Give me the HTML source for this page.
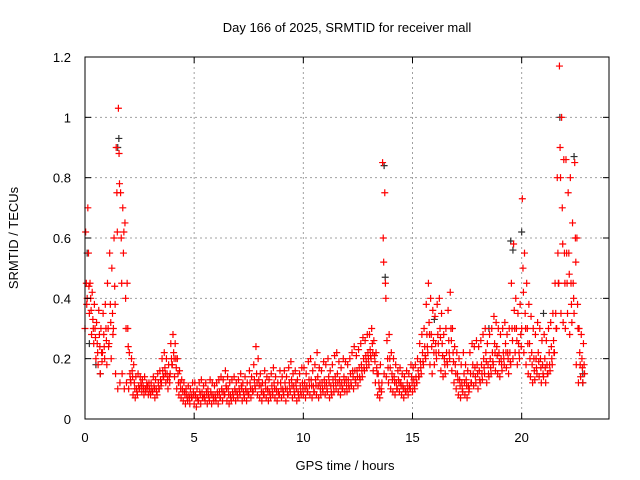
<!DOCTYPE html>
<html><head><meta charset="utf-8"><style>
body{margin:0;background:#fff;}
svg{display:block;font-family:"Liberation Sans",sans-serif;font-size:13px;}
</style></head><body>
<svg id="chart" width="640" height="480">
<rect x="0" y="0" width="640" height="480" fill="#fff"/>
<g id="grid"></g>
<g id="black"></g>
<g id="red"></g>
<rect x="85" y="57" width="524" height="362" fill="none" stroke="#000" stroke-width="1"/>
<g id="axes"></g>
<text x="347" y="32" text-anchor="middle">Day 166 of 2025, SRMTID for receiver mall</text>
<text x="345" y="470" text-anchor="middle">GPS time / hours</text>
<text x="18" y="238" text-anchor="middle" transform="rotate(-90 18 238)">SRMTID / TECUs</text>
</svg>
<script>
const xTicks=[0,5,10,15,20];
const yTicks=[0,0.2,0.4,0.6,0.8,1,1.2];
const yTickLabels=["0","0.2","0.4","0.6","0.8","1","1.2"];
const tStep=0.1;
const redA=[30,40,35,28,25,20,18,15,22,20,18,25,20,30,15,10,12,15,10,12,10,12,8,7,8,10,9,8,10,8,8,9,7,8,10,12,14,12,10,15,18,14,10,8,7,6,5,6,5,7,5,4,6,5,7,6,5,6,5,6,6,5,7,6,8,6,5,6,7,6,7,8,6,7,6,8,7,9,10,8,7,6,8,7,6,7,8,7,6,8,7,8,6,8,9,7,8,6,7,8,8,7,9,8,7,9,8,7,8,9,8,9,7,8,9,10,9,8,10,9,9,10,11,10,12,11,13,14,16,17,18,20,16,12,8,7,12,15,14,12,10,9,8,10,9,8,7,9,8,10,9,10,12,14,15,18,20,22,18,15,18,20,22,16,14,15,18,20,16,12,10,8,7,9,8,7,10,12,11,12,10,12,13,15,12,14,15,18,16,15,14,16,18,17,15,18,20,22,18,20,30,22,18,15,14,12,13,15,14,12,14,12,15,16,18,22,30,45,35,32,30,35,28,32,35,18,12,14,12];
const redB=[62,70,45,42,38,32,36,30,35,38,45,55,50,60,90,103,75,70,65,45,22,20,18,14,15,14,13,14,12,12,12,14,13,15,16,20,22,20,18,25,28,25,20,16,13,12,10,11,10,12,12,10,12,13,11,12,10,13,12,11,12,13,14,13,16,14,12,13,14,12,13,15,12,14,12,16,14,18,24,20,15,12,16,14,13,15,17,14,12,16,14,16,14,17,19,15,16,13,15,17,17,15,19,20,16,18,22,17,16,19,18,20,16,18,21,22,19,17,20,19,18,20,22,24,21,23,25,27,26,28,28,30,26,22,15,18,85,75,26,28,22,20,18,16,17,15,14,16,15,18,17,18,20,25,28,30,38,45,40,36,34,38,40,35,28,30,36,42,30,24,22,20,18,22,18,16,22,25,24,26,24,26,28,30,25,28,30,34,32,30,28,30,32,28,30,45,58,40,35,38,73,55,45,38,34,30,28,32,30,26,28,26,30,32,35,45,80,117,100,86,86,75,80,65,85,60,30,28,25];
const redC=[45,55,40,33,30,25,28,22,28,30,30,38,35,44,75,88,60,55,40,30,15,16,12,10,11,12,11,10,11,10,10,11,10,12,13,16,17,15,14,20,22,20,15,12,10,9,8,8,8,9,8,7,9,9,8,9,8,9,8,8,9,9,10,9,11,10,8,9,10,9,10,11,9,10,9,12,10,13,15,13,11,9,12,10,9,11,12,10,9,12,10,12,10,12,13,11,12,9,11,12,12,11,13,13,11,13,14,12,12,13,12,14,11,13,14,15,13,12,14,13,13,15,16,16,16,17,18,20,21,22,23,25,21,17,12,10,60,45,20,20,15,14,12,13,12,11,10,12,11,14,13,14,16,19,22,24,28,32,28,26,25,28,30,25,20,22,26,30,22,18,15,13,12,15,13,11,15,18,17,18,16,18,20,22,18,20,22,25,24,22,20,22,25,22,22,30,36,30,25,28,50,35,30,25,22,20,20,22,20,18,20,18,22,24,26,35,55,90,70,55,55,55,45,45,60,38,22,20,18];
const redD=[38,44,36,30,27,22,24,19,24,26,24,32,28,38,62,78,45,62,30,24,13,14,10,9,10,11,10,9,10,9,9,10,9,10,11,14,15,13,12,18,20,17,12,10,9,8,7,7,7,8,7,6,8,7,7,8,7,8,7,7,8,7,9,8,10,8,7,8,9,8,9,10,8,9,8,10,9,11,12,11,9,8,10,9,8,9,10,9,8,10,9,10,8,10,11,9,10,8,9,10,10,9,11,11,9,11,11,10,10,11,10,12,9,11,12,12,11,10,12,11,11,12,14,13,14,14,16,17,19,20,21,22,19,15,10,9,52,40,17,17,13,12,10,12,11,10,9,10,10,12,11,12,14,17,19,21,24,28,24,22,22,25,27,21,18,19,22,26,19,15,13,11,10,12,11,9,12,15,14,15,13,15,17,19,15,17,19,22,21,19,18,20,22,20,19,26,30,26,22,24,42,30,25,20,18,16,17,19,17,15,17,15,18,20,22,30,45,80,58,45,45,48,38,40,52,30,18,17,15];
const blackT=[0.1,0.2,0.5,0.7,1.5,1.55,13.7,13.75,16.0,18.5,19.5,19.6,20.0,21.0,21.75,22.4,22.8,22.8];
const blackV=[0.55,0.25,0.18,0.15,0.9,0.93,0.84,0.47,0.33,0.3,0.59,0.56,0.62,0.35,1.0,0.87,0.12,0.15];
const NS='http://www.w3.org/2000/svg';
const X0=85,X1=609,Y0=419,Y1=57,XMAX=24,YMAX=1.2;
function sx(t){return X0+(X1-X0)*t/XMAX;}
function sy(v){return Y0-(Y0-Y1)*v/YMAX;}
function mk(tag,attrs,parent){const e=document.createElementNS(NS,tag);for(const k in attrs)e.setAttribute(k,attrs[k]);parent.appendChild(e);return e;}
const grid=document.getElementById('grid'),axes=document.getElementById('axes');
xTicks.forEach((t,i)=>{
  const x=sx(t);
  if(t>0){const g=mk('line',{x1:x,x2:x,y1:Y1,y2:Y0,stroke:'#a0a0a0','stroke-dasharray':'2,3'},grid);
  
  }
  const a=mk('line',{x1:x,x2:x,y1:Y0,y2:Y0-6,stroke:'#000'},axes);
  
  
  const b=mk('line',{x1:x,x2:x,y1:Y1,y2:Y1+6,stroke:'#000'},axes);
  
  
  const l=mk('text',{x:x,y:442,'text-anchor':'middle'},axes);l.textContent=String(t);
  
  
});
yTicks.forEach((v,i)=>{
  const y=sy(v);
  if(v>0&&v<1.2){const g=mk('line',{x1:X0,x2:X1,y1:y,y2:y,stroke:'#a0a0a0','stroke-dasharray':'2,3'},grid);
  
  }
  const a=mk('line',{x1:X0,x2:X0+6,y1:y,y2:y,stroke:'#000'},axes);
  
  
  const b=mk('line',{x1:X1,x2:X1-6,y1:y,y2:y,stroke:'#000'},axes);
  
  
  const l=mk('text',{x:71,y:y+5,'text-anchor':'end'},axes);l.textContent=yTickLabels[i];
  
  
});
function plus(g,t,v,color){
  const x=sx(t),y=sy(v);
  const p=mk('path',{d:'M'+(x-3.5)+' '+y+'h7M'+x+' '+(y-3.5)+'v7',stroke:color,'stroke-width':1.2,fill:'none'},g);
  
  
}
const bg=document.getElementById('black'),rg=document.getElementById('red');
blackT.forEach((t,i)=>plus(bg,t,blackV[i],'#303030'));
redA.forEach((v,i)=>plus(rg,i*tStep,v/100,'#ff0000'));
redB.forEach((v,i)=>plus(rg,i*tStep+0.03,v/100,'#ff0000'));
redC.forEach((v,i)=>plus(rg,i*tStep+0.06,v/100,'#ff0000'));
redD.forEach((v,i)=>plus(rg,i*tStep+0.08,v/100,'#ff0000'));
</script>
</body></html>
